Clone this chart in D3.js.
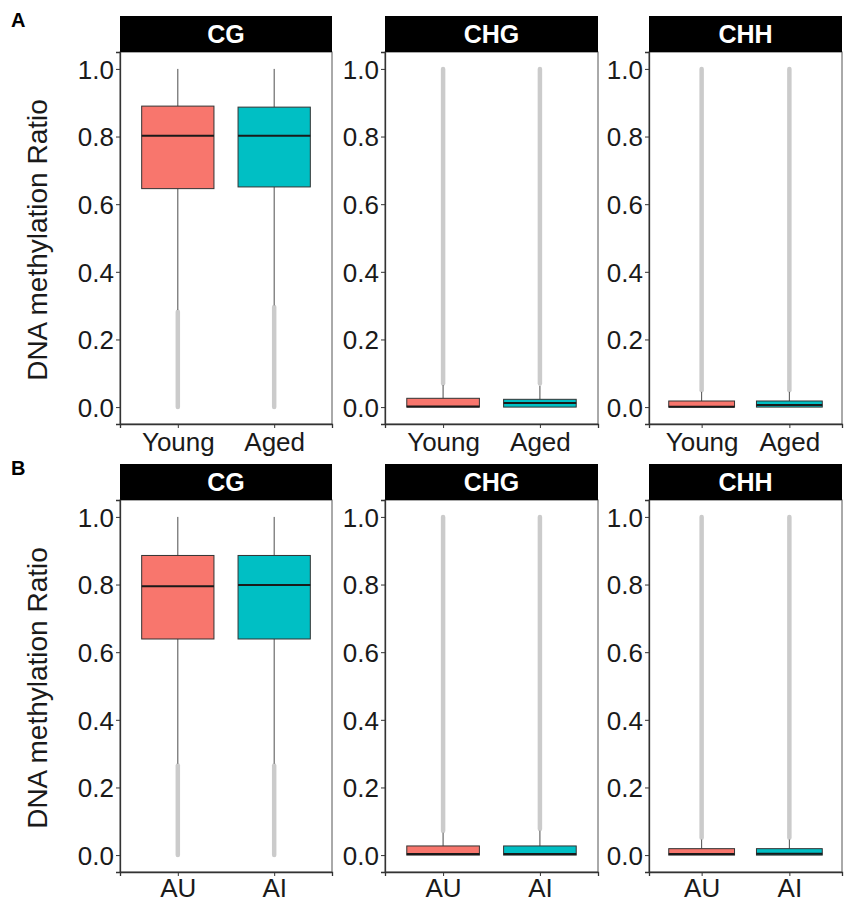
<!DOCTYPE html>
<html>
<head>
<meta charset="utf-8">
<script src="https://cdn.jsdelivr.net/npm/d3@7"></script>
<style>
  body { margin: 0; background: #fff; }
  text { font-family: "Liberation Sans", Arial, sans-serif; }
</style>
</head>
<body>
<script>
// Data
const contexts = ["CG", "CHG", "CHH"];
const groupsA = ["Young", "Aged"];
const groupsB = ["AU", "AI"];
const yTicks = [0, 0.2, 0.4, 0.6, 0.8, 1.0];

// [lower whisker, q1, median, q3, upper whisker] per context, per group
const statsA = [
    [[0.287, 0.646, 0.802, 0.890, 1.0], [0.301, 0.651, 0.802, 0.887, 1.0]],
    [[0, 0, 0.002, 0.026, 0.065], [0, 0, 0.012, 0.023, 0.063]],
    [[0, 0, 0.001, 0.018, 0.045], [0, 0, 0.006, 0.018, 0.045]]
];
const statsB = [
    [[0.270, 0.639, 0.795, 0.886, 1.0], [0.270, 0.639, 0.799, 0.886, 1.0]],
    [[0, 0, 0.003, 0.027, 0.066], [0, 0, 0.003, 0.027, 0.072]],
    [[0, 0, 0.003, 0.019, 0.046], [0, 0, 0.004, 0.019, 0.046]]
];
// outliers are so dense they form a continuous column: [from, to]
const outliersA = [
    [[0, 0.282], [0, 0.296]],
    [[0.07, 1.0], [0.07, 1.0]],
    [[0.05, 1.0], [0.05, 1.0]]
];
const outliersB = [
    [[0, 0.265], [0, 0.265]],
    [[0.071, 1.0], [0.077, 1.0]],
    [[0.051, 1.0], [0.051, 1.0]]
];

const fills = ["#F8766D", "#00BFC4"];

const svg = d3.select('body')
    .append('svg')
    .attr('width', 854)
    .attr('height', 905);

// panel columns
const panelX = [[120, 332], [385, 598], [649, 842]];

const rows = [
    { label: 'A', groups: groupsA, stats: statsA, outliers: outliersA, stripTop: 16, top: 52, bottom: 424, pad: 4 },
    { label: 'B', groups: groupsB, stats: statsB, outliers: outliersB, stripTop: 464, top: 500, bottom: 872, pad: 2 }
];

rows.forEach(row => {
    const y = d3.scaleLinear()
        .domain([-0.05, 1.05])
        .range([row.bottom, row.top]);

    // panel letter
    svg.append('text')
        .attr('x', 11)
        .attr('y', row.stripTop + 11)
        .attr('font-size', 20)
        .attr('font-weight', 'bold')
        .text(row.label);

    // y axis title
    svg.append('text')
        .attr('transform', `translate(47,${(row.top + row.bottom) / 2 + 2}) rotate(-90)`)
        .attr('text-anchor', 'middle')
        .attr('font-size', 28)
        .attr('fill', '#1a1a1a')
        .text('DNA methylation Ratio');

    contexts.forEach((ctx, ci) => {
        const [x0, x1] = panelX[ci];
        const x = d3.scalePoint()
            .domain(row.groups)
            .range([x0, x1])
            .padding(0.6);
        const boxW = x.step() * 0.75;

        const g = svg.append('g');

        // panel border
        g.append('rect')
            .attr('x', x0).attr('y', row.top)
            .attr('width', x1 - x0).attr('height', row.bottom - row.top)
            .attr('fill', 'none')
            .attr('stroke', '#555')
            .attr('stroke-width', 1);

        // strip
        g.append('rect')
            .attr('x', x0).attr('y', row.stripTop)
            .attr('width', x1 - x0).attr('height', row.top - row.stripTop)
            .attr('fill', '#000');
        g.append('text')
            .attr('x', (x0 + x1) / 2)
            .attr('y', (row.stripTop + row.top) / 2 + 9)
            .attr('text-anchor', 'middle')
            .attr('font-size', 25)
            .attr('font-weight', 'bold')
            .attr('fill', '#fff')
            .text(ctx);

        // axes
        const yAxis = g.append('g')
            .attr('transform', `translate(${x0},0)`)
            .call(d3.axisLeft(y).tickValues(yTicks).tickFormat(d3.format('.1f')).tickSize(4).tickPadding(2));
        const xAxis = g.append('g')
            .attr('transform', `translate(0,${row.bottom})`)
            .call(d3.axisBottom(x).tickSize(4).tickPadding(row.pad));
        [yAxis, xAxis].forEach(a => {
            a.select('.domain').attr('stroke', '#333').attr('stroke-width', 1.3);
            a.selectAll('.tick line').attr('stroke', '#333');
            a.selectAll('.tick text')
                .attr('font-size', 26)
                .attr('fill', '#1a1a1a')
                .style('font-family', '"Liberation Sans", Arial, sans-serif');
        });
        xAxis.selectAll('.tick text').attr('dy', '0.72em');
        yAxis.selectAll('.tick text').attr('dy', '0.36em');

        row.groups.forEach((grp, gi) => {
            const [lo, q1, med, q3, hi] = row.stats[ci][gi];
            const [oLo, oHi] = row.outliers[ci][gi];
            const cx = x(grp);

            // outlier column
            g.append('line')
                .attr('x1', cx).attr('x2', cx)
                .attr('y1', y(oLo)).attr('y2', y(oHi))
                .attr('stroke', '#cbcbcb')
                .attr('stroke-width', 4.5)
                .attr('stroke-linecap', 'round');

            // whiskers
            g.append('line')
                .attr('x1', cx).attr('x2', cx)
                .attr('y1', y(hi)).attr('y2', y(q3))
                .attr('stroke', '#4d4d4d').attr('stroke-width', 1);
            g.append('line')
                .attr('x1', cx).attr('x2', cx)
                .attr('y1', y(q1)).attr('y2', y(lo))
                .attr('stroke', '#4d4d4d').attr('stroke-width', 1);

            // box
            g.append('rect')
                .attr('x', cx - boxW / 2)
                .attr('y', y(q3))
                .attr('width', boxW)
                .attr('height', Math.max(y(q1) - y(q3), 1))
                .attr('fill', fills[gi])
                .attr('stroke', '#333')
                .attr('stroke-width', 1);

            // median
            g.append('line')
                .attr('x1', cx - boxW / 2).attr('x2', cx + boxW / 2)
                .attr('y1', y(med)).attr('y2', y(med))
                .attr('stroke', '#1a1a1a')
                .attr('stroke-width', 2);
        });
    });
});
</script>
</body>
</html>
